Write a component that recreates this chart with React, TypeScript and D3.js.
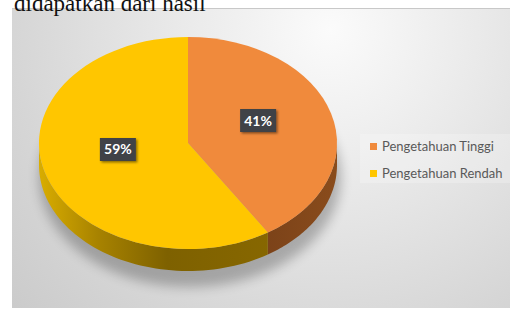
import React from "react";
import * as d3 from "d3";

const categories = ["Pengetahuan Tinggi", "Pengetahuan Rendah"];
const values = [41, 59];
const labels = ["41%", "59%"];
const colors = ["#F08A3C", "#FFC600"];

const W = 510, H = 310;
const cx = 188, cy = 143, rx = 149, ry = 106, depth = 22;

function pt(a: number, yOff = 0) {
  return [cx + rx * Math.sin(a), cy - ry * Math.cos(a) + yOff];
}

function sidePath(a0: number, a1: number) {
  const s = Math.max(a0, Math.PI / 2);
  const e = Math.min(a1, (3 * Math.PI) / 2);
  if (e <= s) return null;
  const n = 60;
  const top: number[][] = [];
  const bot: number[][] = [];
  for (let i = 0; i <= n; i++) {
    const a = s + ((e - s) * i) / n;
    top.push(pt(a));
    bot.push(pt(a, depth));
  }
  const line = d3.line();
  const pts = [...top, ...bot.reverse()];
  return line(pts as [number, number][]) + "Z";
}

export default function App() {
  const pie = d3.pie<number>().sort(null).value((d) => d);
  const arcs = pie(values);
  const arcGen = d3.arc<d3.PieArcDatum<number>>().innerRadius(0).outerRadius(rx);
  const k = ry / rx;

  return (
    <svg width={W} height={H} style={{ position: "absolute", left: 0, top: 0 }}>
      <defs>
        <radialGradient id="bg" cx="330" cy="30" r="420" gradientUnits="userSpaceOnUse">
          <stop offset="0" stopColor="#fbfbfb" />
          <stop offset="0.35" stopColor="#eaeaea" />
          <stop offset="0.75" stopColor="#d6d6d6" />
          <stop offset="1" stopColor="#cbcbcb" />
        </radialGradient>
        <linearGradient id="sideY" x1="39" x2="272" y1="0" y2="0" gradientUnits="userSpaceOnUse">
          <stop offset="0" stopColor="#d9ad00" />
          <stop offset="0.25" stopColor="#a88300" />
          <stop offset="0.55" stopColor="#7e6100" />
          <stop offset="1" stopColor="#876700" />
        </linearGradient>
        <linearGradient id="sideO" x1="268" x2="338" y1="0" y2="0" gradientUnits="userSpaceOnUse">
          <stop offset="0" stopColor="#7c4319" />
          <stop offset="1" stopColor="#8a4c1c" />
        </linearGradient>
        <filter id="blur" x="-30%" y="-30%" width="160%" height="160%">
          <feGaussianBlur stdDeviation="6" />
        </filter>
        <filter id="lblShadow" x="-30%" y="-30%" width="160%" height="160%">
          <feDropShadow dx="1.5" dy="1.5" stdDeviation="1.2" floodColor="#000" floodOpacity="0.45" />
        </filter>
      </defs>
      <rect x={12} y={8} width={W - 12} height={300} fill="url(#bg)" />
      <line x1={12} x2={W} y1={8.5} y2={8.5} stroke="#c8c8c8" strokeWidth={1} />
      <text x={14} y={11} fontFamily="'Liberation Serif', serif" fontSize={23} fill="#111">
        didapatkan dari hasil
      </text>
      <rect x={360} y={134} width={150} height={49} fill="#ffffff" opacity={0.22} />

      <ellipse cx={cx + 2} cy={cy + depth + 12} rx={rx + 2} ry={ry + 4} fill="#000" opacity={0.25} filter="url(#blur)" />

      {arcs.map((a, i) => {
        const p = sidePath(a.startAngle, a.endAngle);
        return p ? <path key={"s" + i} d={p} fill={i === 0 ? "url(#sideO)" : "url(#sideY)"} /> : null;
      })}

      <g transform={`translate(${cx},${cy}) scale(1,${k})`}>
        {arcs.map((a, i) => (
          <path key={"t" + i} d={arcGen(a) as string} fill={colors[i]} />
        ))}
      </g>

      {arcs.map((a, i) => {
        const m = (a.startAngle + a.endAngle) / 2;
        const [lx, ly0] = pt(m);
        const x = cx + (lx - cx) * 0.49;
        const y = cy + (ly0 - cy) * 0.49 - 8;
        return (
          <g key={"l" + i}>
            <rect x={x - 18} y={y - 11.5} width={36} height={23} fill="#404346" filter="url(#lblShadow)" />
            <text x={x} y={y + 5} textAnchor="middle" fontFamily="Lato, sans-serif" fontWeight="bold" fontSize={14} fill="#ffffff">
              {labels[i]}
            </text>
          </g>
        );
      })}

      {categories.map((c, i) => (
        <g key={"lg" + i} transform={`translate(370,${143 + i * 27})`}>
          <rect x={0} y={0} width={7} height={7} fill={colors[i]} />
          <text x={12} y={8} fontFamily="Lato, sans-serif" fontSize={13} fill="#595959">
            {c}
          </text>
        </g>
      ))}
    </svg>
  );
}
